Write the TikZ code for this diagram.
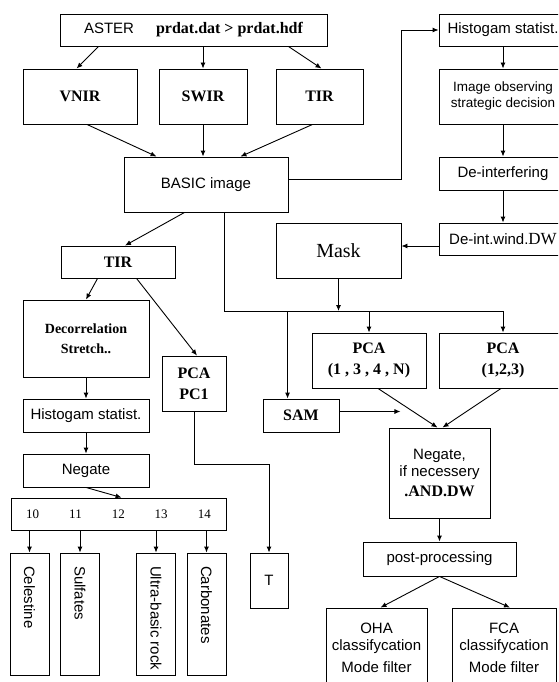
\documentclass[tikz,border=0pt]{standalone}
\usepackage{fontspec}
\setmainfont{Liberation Sans}
\newfontfamily\tms{Liberation Serif}
\usetikzlibrary{arrows.meta,calc}

\newcommand{\sfnt}{\fontsize{15}{17}\selectfont}
\newcommand{\bsrf}{\tms\bfseries\fontsize{16}{21}\selectfont}
\newcommand{\downtxt}[1]{\rotatebox{-90}{\makebox[96pt][l]{#1}}}

\begin{document}
\begin{tikzpicture}[x=1pt, y=-1pt, >={Latex[length=6pt,width=5pt]}, line width=0.9pt, font=\sfnt,
        blk/.style={draw, rectangle, align=center, inner sep=2pt},
        serifblk/.style={blk, font=\bsrf},
        tall/.style={blk, minimum width=39, minimum height=122}]
        \useasboundingbox (0,0) rectangle (558,682);
        \clip (0,0) rectangle (558,682);

        % Input and bands
        \node[blk, minimum width=267, minimum height=32] (aster) at (193.5,30) {ASTER\hspace{22pt}{\bsrf prdat.dat > prdat.hdf}};
        \node[serifblk, minimum width=114, minimum height=55] (vnir) at (80,96.5) {VNIR};
        \node[serifblk, minimum width=88, minimum height=55] (swir) at (203,96.5) {SWIR};
        \node[serifblk, minimum width=87, minimum height=55] (tira) at (319.5,96.5) {TIR};
        \node[blk, minimum width=164, minimum height=55] (basic) at (206,184.5) {BASIC image};

        % Right column
        \node[blk, minimum width=128, minimum height=32] (hista) at (503,30) {Histogam statist.};
        \node[blk, font=\fontsize{13.5}{16}\selectfont, minimum width=128, minimum height=55] (observe) at (503,96.5) {Image observing\\strategic decision};
        \node[blk, minimum width=128, minimum height=33] (deint) at (503,173.5) {De-interfering};
        \node[blk, minimum width=128, minimum height=32] (dw) at (503,239) {De-int.wind.{\tms\fontsize{17}{18}\selectfont DW}};
        \node[blk, font=\tms\fontsize{20}{22}\selectfont, minimum width=125, minimum height=55] (mask) at (338.5,250.5) {Mask};

        % TIR branch
        \node[serifblk, minimum width=114, minimum height=32] (tirb) at (118,262) {TIR};
        \node[blk, font=\tms\bfseries\fontsize{14}{20}\selectfont, minimum width=126, minimum height=77] (decor) at (86,338.5) {Decorrelation\\Stretch..};
        \node[serifblk, minimum width=64, minimum height=55] (pcone) at (194,383.5) {PCA\\PC1};
        \node[blk, minimum width=126, minimum height=33] (histb) at (86,415.5) {Histogam statist.};
        \node[blk, minimum width=126, minimum height=33] (nega) at (86,470.5) {Negate};
        \node[blk, font=\tms\fontsize{13}{15}\selectfont, minimum width=215, minimum height=32] (nums) at (118.5,514) {10\hspace{30pt}11\hspace{30pt}12\hspace{30pt}13\hspace{30pt}14};
        \node[tall] (celest) at (29.5,614) {\downtxt{Celestine}};
        \node[tall] (sulf) at (80,614) {\downtxt{Sulfates}};
        \node[tall] (ultra) at (156,614) {\downtxt{Ultra-basic rock}};
        \node[tall] (carbo) at (206.5,614) {\downtxt{Carbonates}};
        \node[blk, minimum width=38, minimum height=55] (tbox) at (269,580.5) {T};

        % Mask branch
        \node[serifblk, minimum width=114, minimum height=55] (pcaa) at (369,360.5) {PCA\\(1 , 3 , 4 , N)};
        \node[serifblk, minimum width=128, minimum height=55] (pcab) at (503,360.5) {PCA\\(1,2,3)};
        \node[serifblk, minimum width=76, minimum height=33] (sam) at (301,415.5) {SAM};
        \node[blk, minimum width=101, minimum height=90] (negb) at (439.5,473) {Negate,\\if necessery\\[3pt]{\bsrf .AND.DW}};
        \node[blk, minimum width=153, minimum height=34] (post) at (439.5,559) {post-processing};
        \node[blk, minimum width=101, minimum height=80] (oha) at (376.5,648) {OHA\\classifycation\\[5pt]Mode filter};
        \node[blk, minimum width=104, minimum height=80] (fca) at (504,648) {FCA\\classifycation\\[5pt]Mode filter};

        % Relations, top
        \draw[->] ($(aster.south west)+(39,0)$) -- ($(vnir.north west)+(54,0)$);
        \draw[->] (aster.south -| swir.north) -- (swir.north);
        \draw[->] ($(aster.south east)+(-39,0)$) -- ($(tira.north)+(2,0)$);
        \draw[->] ($(vnir.south)+(7,0)$) -- ($(basic.north west)+(33,0)$);
        \draw[->] (swir.south) -- (swir.south |- basic.north);
        \draw[->] ($(tira.south)+(-7,0)$) -- ($(basic.north east)+(-48,0)$);

        % Relations, right column
        \draw[->] ($(basic.east)+(0,-5)$) -| (mask.east |- hista.west) -- (hista.west);
        \draw[->] (hista) -- (observe);
        \draw[->] (observe) -- (deint);
        \draw[->] (deint) -- (dw);
        \coordinate (dwout) at ($(dw.west)+(0,7)$);
        \draw[->] (dwout) -- (dwout -| mask.east);

        % Relations, TIR branch
        \draw[->] ($(basic.south west)+(61,0)$) -- ($(tirb.north)+(7,0)$);
        \draw[->] ($(tirb.south west)+(37,0)$) -- (decor.north);
        \draw[->] ($(tirb.south west)+(76,0)$) -- ($(pcone.north)+(3,0)$);
        \draw[->] (decor) -- (histb);
        \draw[->] (histb) -- (nega);
        \draw[->] (nega.south) -- ($(nums.north west)+(111,0)$);
        \draw[->] (nums.south -| celest.north) -- (celest.north);
        \draw[->] (nums.south -| sulf.north) -- (sulf.north);
        \draw[->] (nums.south -| ultra.north) -- (ultra.north);
        \draw[->] (nums.south -| carbo.north) -- (carbo.north);
        \draw[->] (pcone.south) |- ($(tbox.north)+(0,-88)$) -- (tbox.north);

        % Relations, mask branch
        \coordinate (rail) at (0,311);
        \draw ($(basic.south west)+(101,0)$) |- (rail -| pcab.north);
        \draw[->] (mask) -- (mask |- rail);
        \coordinate (samin) at ($(sam.north west)+(25,0)$);
        \draw[->] (rail -| samin) -- (samin);
        \draw[->] (rail -| pcaa.north) -- (pcaa.north);
        \draw[->] (rail -| pcab.north) -- (pcab.north);
        \draw[->] ($(sam.east)+(0,-4)$) -- ($(sam.east)+(61,-4)$);
        \draw[->] ($(pcaa.south)+(9,0)$) -- ($(negb.north)+(-2,0)$);
        \draw[->] ($(pcab.south)+(-2,0)$) -- ($(negb.north)+(3,0)$);
        \draw[->] (negb) -- (post);
        \draw[->] (post.south) -- ($(oha.north)+(4,0)$);
        \draw[->] (post.south) -- ($(fca.north)+(6,0)$);
    \end{tikzpicture}
\end{document}
